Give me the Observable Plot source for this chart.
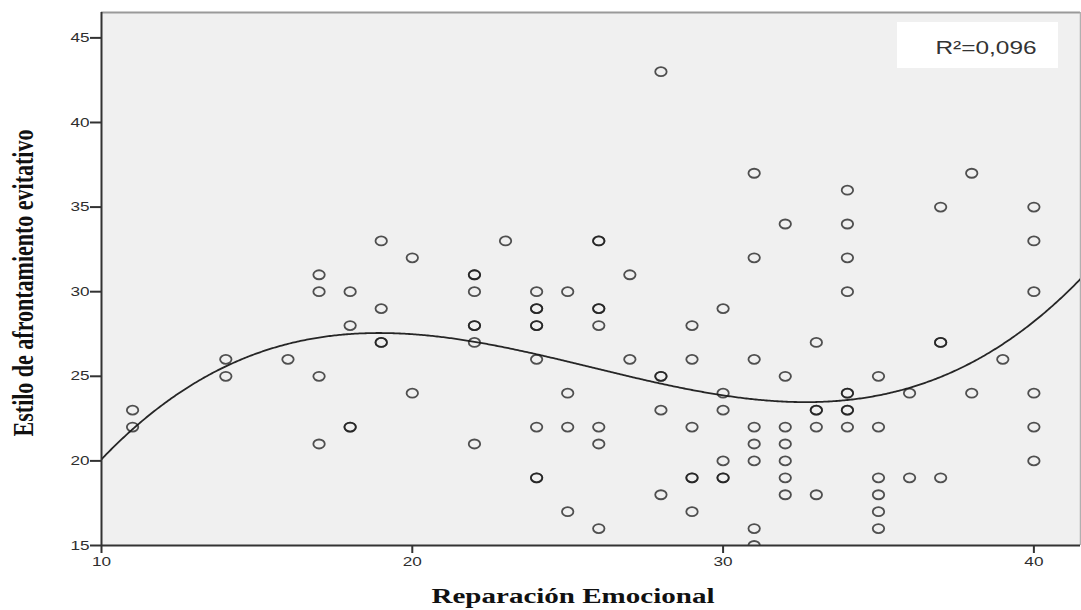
<!DOCTYPE html>
<html>
<head>
<meta charset="utf-8">
<script src="https://cdn.jsdelivr.net/npm/d3@7"></script>
<script src="https://cdn.jsdelivr.net/npm/@observablehq/plot@0.6"></script>
<style>
  body { margin: 0; background: #fff; }
  #chart svg { display: block; }
</style>
</head>
<body>
<div id="chart"></div>
<script>
// Reparación Emocional score for each participant
const reparacion = [
  11, 11,
  14, 14,
  16,
  17, 17, 17, 17,
  18, 18, 18, 18,
  19, 19, 19, 19,
  20, 20,
  22, 22, 22, 22, 22, 22, 22,
  23,
  24, 24, 24, 24, 24, 24, 24, 24, 24,
  25, 25, 25, 25,
  26, 26, 26, 26, 26, 26, 26, 26,
  27, 27,
  28, 28, 28, 28, 28,
  29, 29, 29, 29, 29, 29,
  30, 30, 30, 30, 30, 30,
  31, 31, 31, 31, 31, 31, 31, 31,
  32, 32, 32, 32, 32, 32, 32,
  33, 33, 33, 33, 33,
  34, 34, 34, 34, 34, 34, 34, 34, 34,
  35, 35, 35, 35, 35, 35,
  36, 36,
  37, 37, 37, 37,
  38, 38,
  39,
  40, 40, 40, 40, 40, 40
];

// Estilo de afrontamiento evitativo score, same order as above
const evitativo = [
  23, 22,
  26, 25,
  26,
  31, 30, 25, 21,
  30, 28, 22, 22,
  33, 29, 27, 27,
  32, 24,
  31, 31, 30, 28, 28, 27, 21,
  33,
  30, 29, 29, 28, 28, 26, 22, 19, 19,
  30, 24, 22, 17,
  33, 33, 29, 29, 28, 22, 21, 16,
  31, 26,
  43, 25, 25, 23, 18,
  28, 26, 22, 19, 19, 17,
  29, 24, 23, 20, 19, 19,
  37, 32, 26, 22, 21, 20, 16, 15,
  34, 25, 22, 21, 20, 19, 18,
  27, 23, 23, 22, 18,
  36, 34, 32, 30, 24, 24, 23, 23, 22,
  25, 22, 19, 18, 17, 16,
  24, 19,
  35, 27, 27, 19,
  37, 24,
  26,
  35, 33, 30, 24, 22, 20
];

const xTicks = [10, 20, 30, 40];
const yTicks = [15, 20, 25, 30, 35, 40, 45];
const xDomain = [10, 41.5];
const yDomain = [15, 46.5];
const xTitle = "Reparación Emocional";
const yTitle = "Estilo de afrontamiento evitativo";
const r2Label = "R²=0,096";

const points = reparacion.map((x, i) => ({x, y: evitativo[i]}));

// Least-squares cubic fit (centred x for numerical stability)
function cubicFit(xs, ys) {
  const m = d3.mean(xs);
  const n = 4;
  const A = Array.from({length: n}, () => new Array(n + 1).fill(0));
  xs.forEach((x, i) => {
    const t = x - m;
    const p = [1, t, t * t, t * t * t];
    for (let j = 0; j < n; j++) {
      for (let k = 0; k < n; k++) A[j][k] += p[j] * p[k];
      A[j][n] += p[j] * ys[i];
    }
  });
  for (let c = 0; c < n; c++) {
    let piv = c;
    for (let r = c + 1; r < n; r++) if (Math.abs(A[r][c]) > Math.abs(A[piv][c])) piv = r;
    [A[c], A[piv]] = [A[piv], A[c]];
    for (let r = 0; r < n; r++) {
      if (r === c) continue;
      const f = A[r][c] / A[c][c];
      for (let k = c; k <= n; k++) A[r][k] -= f * A[c][k];
    }
  }
  const coef = A.map((row, i) => row[n] / row[i]);
  return x => {
    const t = x - m;
    return coef[0] + coef[1] * t + coef[2] * t * t + coef[3] * t * t * t;
  };
}

const fit = cubicFit(reparacion, evitativo);
const curve = d3.range(xDomain[0], xDomain[1] + 0.001, 0.05).map(x => ({x, y: fit(x)}));

// Slightly wide open ellipse marker
const K = 0.5523;
const ellipse = {
  draw(ctx, size) {
    const r = Math.sqrt(size / Math.PI);
    const rx = r * 1.27, ry = r;
    ctx.moveTo(rx, 0);
    ctx.bezierCurveTo(rx, ry * K, rx * K, ry, 0, ry);
    ctx.bezierCurveTo(-rx * K, ry, -rx, ry * K, -rx, 0);
    ctx.bezierCurveTo(-rx, -ry * K, -rx * K, -ry, 0, -ry);
    ctx.bezierCurveTo(rx * K, -ry, rx, -ry * K, rx, 0);
    ctx.closePath();
  }
};

const chart = Plot.plot({
  width: 1081,
  height: 610,
  marginLeft: 101,
  marginRight: 1,
  marginTop: 12,
  marginBottom: 65,
  style: {fontFamily: "'Liberation Sans', Arial, sans-serif", fontSize: "13px", color: "#2e2e2e", background: "#fff"},
  x: {domain: xDomain, label: null},
  y: {domain: yDomain, label: null},
  marks: [
    Plot.frame({fill: "#f0f0f0", stroke: null}),
    Plot.ruleY([yDomain[1]], {stroke: "#9a9a9a", strokeWidth: 2}),
    Plot.ruleX([xDomain[1]], {stroke: "#b0b0b0", strokeWidth: 1.5}),
    Plot.line(curve, {x: "x", y: "y", stroke: "#262626", strokeWidth: 1.8, clip: true}),
    Plot.dot(points, {x: "x", y: "y", symbol: ellipse, r: 4.5, fill: "none", stroke: "#1a1a1a", strokeOpacity: 0.75, strokeWidth: 1.8, clip: true}),
    Plot.ruleX([xDomain[0]], {stroke: "#333", strokeWidth: 2}),
    Plot.ruleY([yDomain[0]], {stroke: "#333", strokeWidth: 2}),
    Plot.axisX({ticks: xTicks, tickSize: 8, tickPadding: 3, stroke: "#333", strokeWidth: 2, label: null}),
    Plot.axisY({ticks: yTicks, tickSize: 11, tickPadding: 1, stroke: "#333", strokeWidth: 2, label: null})
  ]
});

document.getElementById("chart").append(chart);

const svg = d3.select(chart);
const stretch = 1.32;

// Widen tick labels
svg.selectAll('g[aria-label="x-axis tick label"] text, g[aria-label="y-axis tick label"] text').each(function() {
  const w = this.getComputedTextLength();
  this.setAttribute("textLength", w * stretch);
  this.setAttribute("lengthAdjust", "spacingAndGlyphs");
});

// R² annotation box in the upper right corner of the plot area
const innerRight = 1081 - 1;
svg.append("rect")
  .attr("x", innerRight - 183).attr("y", 22)
  .attr("width", 161).attr("height", 46)
  .attr("fill", "#fff");
svg.append("text")
  .attr("transform", `translate(${innerRight - 94},54) scale(${stretch},1)`)
  .attr("text-anchor", "middle")
  .attr("font-family", "'Liberation Sans', Arial, sans-serif")
  .attr("font-size", 18.5)
  .attr("fill", "#333")
  .text(r2Label);

// Axis titles
svg.append("text")
  .attr("transform", `translate(573,603) scale(${stretch},1)`)
  .attr("text-anchor", "middle")
  .attr("font-family", "'Liberation Serif', 'Times New Roman', serif")
  .attr("font-weight", "bold")
  .attr("font-size", 22)
  .attr("fill", "#111")
  .text(xTitle);

svg.append("text")
  .attr("transform", `translate(33,283) scale(${stretch},1) rotate(-90)`)
  .attr("text-anchor", "middle")
  .attr("font-family", "'Liberation Serif', 'Times New Roman', serif")
  .attr("font-weight", "bold")
  .attr("font-size", 22)
  .attr("fill", "#111")
  .text(yTitle);
</script>
</body>
</html>
